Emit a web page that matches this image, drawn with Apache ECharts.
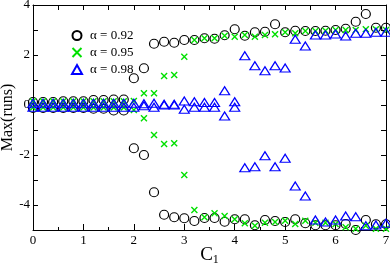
<!DOCTYPE html>
<html>
<head>
<meta charset="utf-8">
<script src="https://cdn.jsdelivr.net/npm/echarts@6/dist/echarts.min.js"></script>
<style>
html,body{margin:0;padding:0;background:#fff;}
#chart{width:390px;height:267px;}
</style>
</head>
<body>
<div id="chart"></div>
<script>
// ---- data ----
var C1 = [0,0.2,0.4,0.6,0.8,1.0,1.2,1.4,1.6,1.8,2.0,2.2,2.4,2.6,2.8,3.0,3.2,3.4,3.6,3.8,4.0,4.2,4.4,4.6,4.8,5.0,5.2,5.4,5.6,5.8,6.0,6.2,6.4,6.6,6.8,7.0];

var a092_hi = [0.12,0.12,0.12,0.15,0.15,0.15,0.2,0.2,0.22,0.22,1.07,1.47,2.45,2.53,2.49,2.6,2.6,2.67,2.65,2.79,3.03,2.77,2.91,2.93,3.23,2.91,2.97,2.96,2.96,2.97,3.0,3.05,3.33,3.64,3.09,3.09];
var a092_lo = [-0.12,-0.12,-0.12,-0.12,-0.12,-0.12,-0.15,-0.15,-0.22,-0.22,-1.73,-2.0,-3.49,-4.39,-4.49,-4.53,-4.64,-4.52,-4.52,-4.67,-4.57,-4.57,-4.81,-4.6,-4.64,-4.68,-4.57,-4.73,-4.81,-4.81,-4.81,-4.76,-5.0,-4.6,-4.77,-4.77];

var a095_hi = [0.15,0.15,0.15,0.15,0.15,0.15,0.15,0.15,0.15,0.15,0.16,0.47,0.47,1.16,1.2,1.93,2.6,2.67,2.67,2.77,2.73,2.8,2.73,2.8,2.83,2.91,2.87,2.96,2.96,2.97,3.0,3.0,3.0,3.03,3.03,3.0];
var a095_lo = [-0.1,-0.1,-0.1,-0.1,-0.1,-0.1,-0.1,-0.1,-0.1,-0.1,-0.2,-0.53,-1.2,-1.56,-1.53,-2.8,-4.2,-4.49,-4.33,-4.44,-4.57,-4.73,-4.83,-4.71,-4.68,-4.63,-4.76,-4.63,-4.71,-4.71,-4.76,-4.89,-4.95,-4.83,-4.95,-4.95];

var a098_hi = [0.07,0.07,0.07,0.07,0.07,0.07,0.07,0.07,0.07,0.07,0.07,0.05,0.07,0.03,0.03,0.16,0.13,0.1,0.1,0.57,0.13,1.97,1.57,1.37,1.57,1.48,2.63,2.36,2.8,2.8,2.84,2.76,2.87,2.87,2.91,2.91];
var a098_lo = [-0.09,-0.09,-0.09,-0.09,-0.09,-0.09,-0.09,-0.09,-0.09,-0.09,-0.09,-0.03,-0.09,0.0,0.0,-0.17,-0.09,-0.09,-0.09,-0.44,-0.09,-2.51,-2.47,-2.03,-2.47,-2.13,-3.24,-3.64,-4.6,-4.68,-4.6,-4.44,-4.47,-4.83,-4.8,-4.73];

var seriesNames = ['\u03b1 = 0.92', '\u03b1 = 0.95', '\u03b1 = 0.98'];
var yTickLabels = ['-4','-2','0','2','4'];
var xTickLabels = ['0','1','2','3','4','5','6','7'];

function pairs(xs, hi, lo) {
  var out = [];
  for (var i = 0; i < xs.length; i++) { out.push([xs[i], hi[i]]); out.push([xs[i], lo[i]]); }
  return out;
}

var FONT = 'Liberation Serif';
var chart = echarts.init(document.getElementById('chart'), null, {renderer: 'canvas'});

var axisLine = {show: true, onZero: false, lineStyle: {color: '#000', width: 1}};

chart.setOption({
  animation: false,
  backgroundColor: '#fff',
  grid: {left: 33, right: 4, top: 5, bottom: 37, containLabel: false, outerBoundsMode: 'none'},
  legend: {
    orient: 'vertical', left: 66, top: 24, itemWidth: 10, itemHeight: 9, itemGap: 4,
    data: seriesNames,
    textStyle: {fontFamily: FONT, fontSize: 13, color: '#000', lineHeight: 10, padding: [0, 0, 0, 3]}
  },
  xAxis: [{
    type: 'value', min: 0, max: 7, interval: 1, position: 'bottom',
    name: '{c|C}{s|1}', nameLocation: 'middle', nameGap: 14, nameMoveOverlap: false,
    nameTextStyle: {rich: {c: {fontFamily: FONT, fontSize: 19, color: '#000'}, s: {fontFamily: FONT, fontSize: 12, color: '#000', padding: [10,0,0,0]}}},
    axisLine: axisLine,
    axisTick: {show: true, inside: true, length: 6, lineStyle: {color: '#000'}},
    minorTick: {show: true, splitNumber: 2, length: 3, lineStyle: {color: '#000'}},
    splitLine: {show: false},
    axisLabel: {fontFamily: FONT, fontSize: 13, color: '#000', margin: 4,
      formatter: function (v) { var i = xTickLabels.indexOf(String(v)); return i >= 0 ? xTickLabels[i] : ''; }}
  }, {
    type: 'value', min: 0, max: 7, interval: 1, position: 'top',
    axisLine: axisLine,
    axisTick: {show: true, inside: true, length: 5, lineStyle: {color: '#000'}},
    minorTick: {show: true, splitNumber: 2, length: 5, lineStyle: {color: '#000'}},
    splitLine: {show: false}, axisLabel: {show: false}
  }],
  yAxis: [{
    type: 'value', min: -5, max: 4, interval: 1, position: 'left',
    name: 'Max(runs)', nameLocation: 'middle', nameGap: 17, nameRotate: 90, nameMoveOverlap: false,
    nameTextStyle: {fontFamily: FONT, fontSize: 16, color: '#000'},
    axisLine: axisLine,
    axisTick: {show: true, inside: true, length: 5, lineStyle: {color: '#000'}},
    splitLine: {show: false},
    axisLabel: {fontFamily: FONT, fontSize: 13, color: '#000', margin: 3,
      formatter: function (v) { var i = yTickLabels.indexOf(String(v)); return i >= 0 ? yTickLabels[i] : ''; }}
  }, {
    type: 'value', min: -5, max: 4, interval: 1, position: 'right',
    axisLine: axisLine,
    axisTick: {show: true, inside: true, length: 5, lineStyle: {color: '#000'}},
    splitLine: {show: false}, axisLabel: {show: false}
  }],
  series: [{
    name: seriesNames[0], type: 'scatter', xAxisIndex: 0, yAxisIndex: 0,
    symbol: 'circle', symbolSize: 9, clip: false,
    itemStyle: {color: 'rgba(0,0,0,0)', borderColor: '#000', borderWidth: 1.2, opacity: 1},
    data: pairs(C1, a092_hi, a092_lo), z: 3
  }, {
    name: seriesNames[1], type: 'scatter', xAxisIndex: 0, yAxisIndex: 0,
    symbol: 'path://M0,0L10,10M10,0L0,10', symbolSize: 6, clip: false,
    itemStyle: {color: 'rgba(0,0,0,0)', borderColor: '#00e000', borderWidth: 1.4, opacity: 1},
    data: pairs(C1, a095_hi, a095_lo), z: 4
  }, {
    name: seriesNames[2], type: 'scatter', xAxisIndex: 0, yAxisIndex: 0,
    symbol: 'triangle', symbolSize: [10, 8], clip: false,
    itemStyle: {color: 'rgba(0,0,0,0)', borderColor: '#0000ff', borderWidth: 1.2, opacity: 1},
    data: pairs(C1, a098_hi, a098_lo), z: 5
  }]
});
</script>
</body>
</html>
